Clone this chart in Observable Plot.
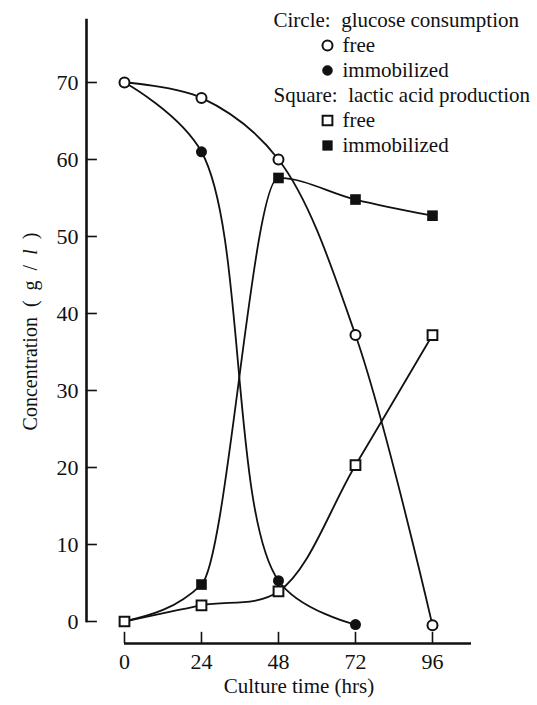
<!DOCTYPE html>
<html><head><meta charset="utf-8">
<script src="https://cdn.jsdelivr.net/npm/d3@7"></script>
<script src="https://cdn.jsdelivr.net/npm/@observablehq/plot@0.6"></script>
<style>html,body{margin:0;padding:0;background:#fff}</style>
</head><body><div id="chart"></div>
<script>
// ---- data ----
const hours = [0, 24, 48, 72, 96];
const glucoseFree = [70, 68, 60, 37.2, -0.5];
const glucoseImmobilized = [70, 61, 5.3, -0.4];          // measured 0..72 h
const lacticFree = [0, 2.1, 3.9, 20.3, 37.2];
const lacticImmobilized = [0, 4.8, 57.6, 54.8, 52.7];
const xTicks = [0, 24, 48, 72, 96];
const yTicks = [0, 10, 20, 30, 40, 50, 60, 70];
const xLabel = "Culture time (hrs)";
const yLabel = "Concentration\u2002(\u2002g\u2002/\u2002l\u2002)";
const legendRows = [
  {kind: "header", label: "Circle:\u2002glucose consumption"},
  {kind: "item", label: "free", symbol: "circle", filled: false},
  {kind: "item", label: "immobilized", symbol: "circle", filled: true},
  {kind: "header", label: "Square:\u2002lactic acid production"},
  {kind: "item", label: "free", symbol: "square", filled: false},
  {kind: "item", label: "immobilized", symbol: "square", filled: true}
];

const toRows = (vals) => vals.map((v, i) => ({hour: hours[i], value: v}));
const gf = toRows(glucoseFree), gi = toRows(glucoseImmobilized);
const lf = toRows(lacticFree), li = toRows(lacticImmobilized);

const xDom = [-11.84, 108.16];
const yDom = [-2.857, 78.05];
const ink = "#111";
const font = "'Liberation Serif', 'DejaVu Serif', serif";

const legendMarks = [];
legendRows.forEach((r, i) => {
  const base = 6 + i * 25;   // baseline offset from frame top
  if (r.kind === "header") {
    legendMarks.push(Plot.text([r.label], {frameAnchor: "top-left", dx: 187, dy: base, lineAnchor: "bottom", textAnchor: "start", fontSize: 21}));
  } else {
    legendMarks.push(Plot.text([r.label], {frameAnchor: "top-left", dx: 256, dy: base, lineAnchor: "bottom", textAnchor: "start", fontSize: 21}));
    legendMarks.push(Plot.dot([r.label], {frameAnchor: "top-left", dx: 241, dy: base - 6, symbol: r.symbol,
      r: r.symbol === "square" ? 5.5 : 5, fill: r.filled ? ink : "white", stroke: ink, strokeWidth: r.filled ? 0.5 : 2}));
  }
});

const chart = Plot.plot({
  width: 537, height: 705,
  marginLeft: 86, marginRight: 66, marginTop: 20, marginBottom: 62,
  style: {fontFamily: font, fontSize: "21px", background: "white", color: ink},
  x: {domain: xDom, axis: null},
  y: {domain: yDom, axis: null},
  marks: [
    // axes
    Plot.ruleX([xDom[0]], {y1: 0, y2: yDom[1], stroke: ink, strokeWidth: 2.6, strokeLinecap: "square"}),
    Plot.ruleY(yTicks, {x1: xDom[0], x2: xDom[0] + 3.4, stroke: ink, strokeWidth: 1.6}),
    Plot.text(yTicks, {x: xDom[0], y: d => d, dx: -8, textAnchor: "end", fontSize: 22}),
    Plot.ruleY([yDom[0]], {x1: 0, x2: xDom[1], stroke: ink, strokeWidth: 2.6}),
    Plot.ruleX(xTicks, {y1: yDom[0], y2: yDom[0] + 1.45, stroke: ink, strokeWidth: 1.6}),
    Plot.text(xTicks, {x: d => d, y: yDom[0], dy: 25, lineAnchor: "bottom", fontSize: 22}),
    Plot.text([xLabel], {frameAnchor: "bottom", dx: 20, dy: 49, lineAnchor: "bottom", fontSize: 21}),
    Plot.text([yLabel], {frameAnchor: "top-left", dx: -64, dy: 311, rotate: -90, textAnchor: "middle", fontSize: 20}),
    // curves
    Plot.line(gf, {x: "hour", y: "value", curve: "catmull-rom", stroke: ink, strokeWidth: 1.8}),
    Plot.line(gi, {x: "hour", y: "value", curve: "catmull-rom", stroke: ink, strokeWidth: 1.8}),
    Plot.line(lf, {x: "hour", y: "value", curve: "catmull-rom", stroke: ink, strokeWidth: 1.8}),
    Plot.line(li, {x: "hour", y: "value", curve: "monotone-x", stroke: ink, strokeWidth: 1.8}),
    // markers: immobilized (filled) below, free (open) on top
    Plot.dot(gi, {x: "hour", y: "value", symbol: "circle", r: 5.5, fill: ink}),
    Plot.dot(li, {x: "hour", y: "value", symbol: "square", r: 6, fill: ink}),
    Plot.dot(gf, {x: "hour", y: "value", symbol: "circle", r: 5, fill: "white", stroke: ink, strokeWidth: 2}),
    Plot.dot(lf, {x: "hour", y: "value", symbol: "square", r: 5.5, fill: "white", stroke: ink, strokeWidth: 2}),
    ...legendMarks
  ]
});
document.getElementById("chart").appendChild(chart);

// italic "l" in the y label, kept centred on its anchor
d3.select(chart).selectAll("text").filter(function() { return this.textContent === yLabel; }).each(function() {
  const i = yLabel.lastIndexOf("l");
  const t = d3.select(this);
  t.attr("text-anchor", "middle");
  t.text(null);
  t.append("tspan").text(yLabel.slice(0, i));
  t.append("tspan").attr("font-style", "italic").text("l");
  t.append("tspan").text(yLabel.slice(i + 1));
});
</script>
</body></html>
